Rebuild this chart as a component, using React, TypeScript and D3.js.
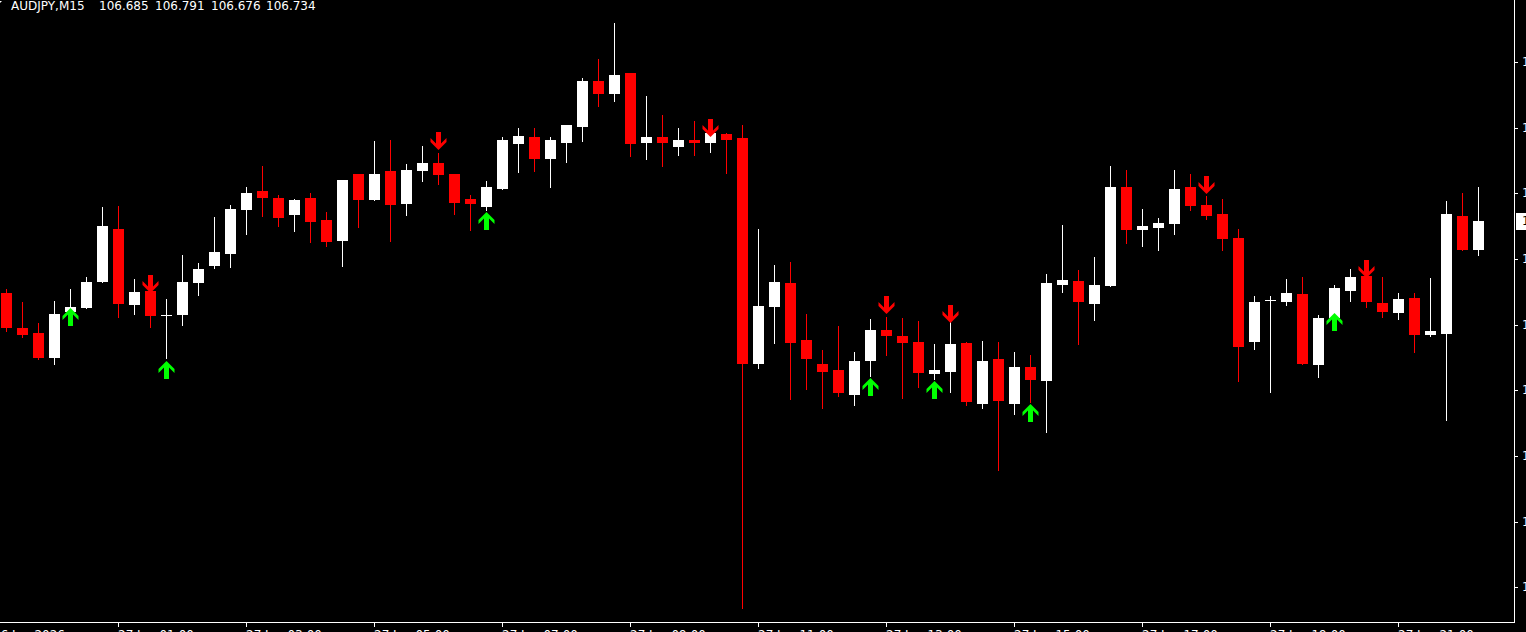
import React from "react";
import * as d3 from "d3";

const symbolTitle = "AUDJPY,M15";
const headerValues = ["106.685", "106.791", "106.676", "106.734"];

const openP = [
  106.613, 106.554, 106.546, 106.505, 106.581, 106.588, 106.631, 106.721, 106.593, 106.616,
  106.576, 106.576, 106.630, 106.658, 106.679, 106.752, 106.784, 106.773, 106.744, 106.773,
  106.736, 106.700, 106.813, 106.769, 106.818, 106.763, 106.818, 106.831, 106.813, 106.771,
  106.758, 106.788, 106.862, 106.875, 106.837, 106.865, 106.892, 106.969, 106.946, 106.981,
  106.865, 106.875, 106.858, 106.869, 106.865, 106.879, 106.872, 106.495, 106.589, 106.630,
  106.534, 106.495, 106.484, 106.443, 106.500, 106.551, 106.541, 106.531, 106.477, 106.480,
  106.529, 106.428, 106.502, 106.428, 106.490, 106.465, 106.626, 106.633, 106.595, 106.625,
  106.790, 106.719, 106.722, 106.729, 106.790, 106.761, 106.746, 106.705, 106.531, 106.600,
  106.598, 106.611, 106.492, 106.571, 106.616, 106.642, 106.596, 106.579, 106.605, 106.542,
  106.544, 106.742, 106.685,
];
const highP = [
  106.620, 106.598, 106.563, 106.600, 106.620, 106.640, 106.758, 106.759, 106.637, 106.618,
  106.603, 106.677, 106.663, 106.741, 106.761, 106.790, 106.826, 106.778, 106.771, 106.781,
  106.749, 106.803, 106.813, 106.867, 106.869, 106.830, 106.860, 106.848, 106.813, 106.778,
  106.800, 106.875, 106.890, 106.890, 106.875, 106.895, 106.973, 107.005, 107.065, 106.981,
  106.944, 106.911, 106.889, 106.902, 106.882, 106.882, 106.895, 106.721, 106.660, 106.665,
  106.578, 106.517, 106.558, 106.514, 106.569, 106.573, 106.571, 106.566, 106.527, 106.564,
  106.531, 106.532, 106.531, 106.514, 106.509, 106.645, 106.727, 106.652, 106.674, 106.826,
  106.820, 106.754, 106.739, 106.820, 106.813, 106.776, 106.771, 106.721, 106.608, 106.608,
  106.637, 106.640, 106.576, 106.626, 106.653, 106.642, 106.640, 106.613, 106.613, 106.638,
  106.768, 106.781, 106.791,
];
const lowP = [
  106.549, 106.539, 106.502, 106.495, 106.578, 106.588, 106.631, 106.573, 106.578, 106.556,
  106.504, 106.559, 106.610, 106.655, 106.657, 106.712, 106.742, 106.726, 106.717, 106.699,
  106.692, 106.658, 106.724, 106.769, 106.700, 106.744, 106.800, 106.795, 106.746, 106.719,
  106.752, 106.788, 106.816, 106.818, 106.791, 106.833, 106.867, 106.927, 106.934, 106.843,
  106.838, 106.826, 106.845, 106.845, 106.850, 106.815, 106.085, 106.487, 106.529, 106.435,
  106.453, 106.421, 106.440, 106.425, 106.474, 106.509, 106.438, 106.455, 106.469, 106.447,
  106.425, 106.420, 106.316, 106.411, 106.431, 106.381, 106.615, 106.527, 106.568, 106.625,
  106.697, 106.692, 106.685, 106.712, 106.752, 106.737, 106.685, 106.465, 106.519, 106.447,
  106.593, 106.494, 106.472, 106.569, 106.600, 106.589, 106.573, 106.569, 106.514, 106.541,
  106.401, 106.685, 106.676,
];
const closeP = [
  106.554, 106.542, 106.505, 106.578, 106.589, 106.631, 106.726, 106.595, 106.615, 106.574,
  106.577, 106.631, 106.653, 106.682, 106.754, 106.781, 106.773, 106.739, 106.769, 106.732,
  106.699, 106.803, 106.769, 106.813, 106.761, 106.820, 106.831, 106.810, 106.764, 106.763,
  106.791, 106.869, 106.877, 106.837, 106.870, 106.894, 106.969, 106.947, 106.979, 106.863,
  106.875, 106.865, 106.869, 106.865, 106.882, 106.869, 106.495, 106.591, 106.631, 106.529,
  106.502, 106.480, 106.445, 106.500, 106.551, 106.541, 106.529, 106.479, 106.484, 106.527,
  106.430, 106.500, 106.433, 106.490, 106.467, 106.630, 106.635, 106.598, 106.626, 106.791,
  106.719, 106.726, 106.731, 106.788, 106.759, 106.742, 106.704, 106.522, 106.598, 106.601,
  106.613, 106.494, 106.571, 106.621, 106.640, 106.598, 106.581, 106.603, 106.542, 106.549,
  106.746, 106.685, 106.734,
];

const downIdx = [9, 27, 44, 55, 59, 75, 85];
const downPrice = [106.613, 106.852, 106.874, 106.578, 106.563, 106.779, 106.638];
const upIdx = [4, 10, 30, 54, 58, 64, 83];
const upPrice = [106.588, 106.5, 106.749, 106.47, 106.465, 106.428, 106.579];

const xTickIdx = [7, 15, 23, 31, 39, 47, 55, 63, 71, 79, 87];
const xTickLabels = [
  "27 Jan 01:00", "27 Jan 03:00", "27 Jan 05:00", "27 Jan 07:00", "27 Jan 09:00", "27 Jan 11:00",
  "27 Jan 13:00", "27 Jan 15:00", "27 Jan 17:00", "27 Jan 19:00", "27 Jan 21:00",
];
const firstDateLabel = "26 Jan 2026";
const yTicks = [107.11, 107.0, 106.89, 106.78, 106.67, 106.56, 106.45, 106.34, 106.23, 106.12];
const yDomain = [106.062, 107.104];

const W = 1526;
const H = 632;
const PLOT_R = 1514;
const PLOT_B = 622;
const FONT = "'DejaVu Sans', sans-serif";
const BULL = "#ffffff";
const BEAR = "#ff0000";
const UPC = "#00ff00";
const DNC = "#ff0000";

const upArrowPath = "M0,0 L8,8 L8,12 L2.5,6.5 L2.5,18 L-2.5,18 L-2.5,6.5 L-8,12 L-8,8 Z";
const downArrowPath = "M0,0 L8,-8 L8,-12 L2.5,-6.5 L2.5,-18 L-2.5,-18 L-2.5,-6.5 L-8,-12 L-8,-8 Z";

export default function App() {
  const n = openP.length;
  const x = d3.scaleLinear().domain([0, n - 1]).range([6, 6 + 16 * (n - 1)]);
  const y = d3.scaleLinear().domain(yDomain).range([PLOT_B, 0]);
  const fmt = d3.format(".3f");
  const lastClose = closeP[n - 1];
  const headerX = [11, 99, 155, 211, 266];

  return (
    <svg
      width={W}
      height={H}
      style={{ position: "fixed", left: 0, top: 0, display: "block", background: "#000" }}
      fontFamily={FONT}
    >
      <rect x={0} y={0} width={W} height={H} fill="#000" />
      <g shapeRendering="crispEdges">
        {openP.map((o, i) => {
          const c = closeP[i];
          const bull = c >= o;
          const col = bull ? BULL : BEAR;
          const cx = Math.round(x(i));
          const yTop = Math.round(y(Math.max(o, c)));
          const yBot = Math.round(y(Math.min(o, c)));
          const yH = Math.round(y(highP[i]));
          const yL = Math.round(y(lowP[i]));
          return (
            <g key={i}>
              <rect x={cx} y={yH} width={1} height={Math.max(1, yL - yH + 1)} fill={col} />
              <rect x={cx - 5} y={yTop} width={11} height={Math.max(1, yBot - yTop)} fill={col} />
            </g>
          );
        })}
      </g>
      <g>
        {upIdx.map((idx, k) => (
          <path
            key={"u" + k}
            d={upArrowPath}
            transform={`translate(${Math.round(x(idx)) + 0.5},${Math.round(y(upPrice[k]))})`}
            fill={UPC}
          />
        ))}
        {downIdx.map((idx, k) => (
          <path
            key={"d" + k}
            d={downArrowPath}
            transform={`translate(${Math.round(x(idx)) + 0.5},${Math.round(y(downPrice[k]))})`}
            fill={DNC}
          />
        ))}
      </g>
      <g shapeRendering="crispEdges">
        <rect x={PLOT_R} y={0} width={1} height={PLOT_B + 1} fill="#fff" />
        <rect x={0} y={PLOT_B} width={PLOT_R + 1} height={1} fill="#fff" />
        {yTicks.map((t) => (
          <rect key={t} x={PLOT_R} y={Math.round(y(t))} width={4} height={1} fill="#fff" />
        ))}
        {xTickIdx.map((t) => (
          <rect key={t} x={Math.round(x(t))} y={PLOT_B} width={1} height={5} fill="#fff" />
        ))}
      </g>
      <g fontSize={12} fill="#fff">
        {yTicks.map((t) => (
          <text key={t} x={1522} y={Math.round(y(t))} dy="0.36em">
            {fmt(t)}
          </text>
        ))}
        {xTickIdx.map((t, k) => (
          <text key={t} x={Math.round(x(t))} y={639}>
            {xTickLabels[k]}
          </text>
        ))}
        <text x={Math.round(x(-1)) + 3} y={639}>
          {firstDateLabel}
        </text>
      </g>
      <g>
        <rect x={1516} y={Math.round(y(lastClose)) - 8} width={20} height={17} fill="#fff" shapeRendering="crispEdges" />
        <text x={1522} y={Math.round(y(lastClose))} dy="0.36em" fontSize={12} fill="#000">
          {fmt(lastClose)}
        </text>
      </g>
      <path d="M0,1 L2,1 L0,3 Z" fill="#fff" />
      <g fontSize={12} fill="#fff">
        <text x={headerX[0]} y={10}>{symbolTitle}</text>
        {headerValues.map((v, k) => (
          <text key={v + k} x={headerX[k + 1]} y={10}>
            {v}
          </text>
        ))}
      </g>
    </svg>
  );
}
